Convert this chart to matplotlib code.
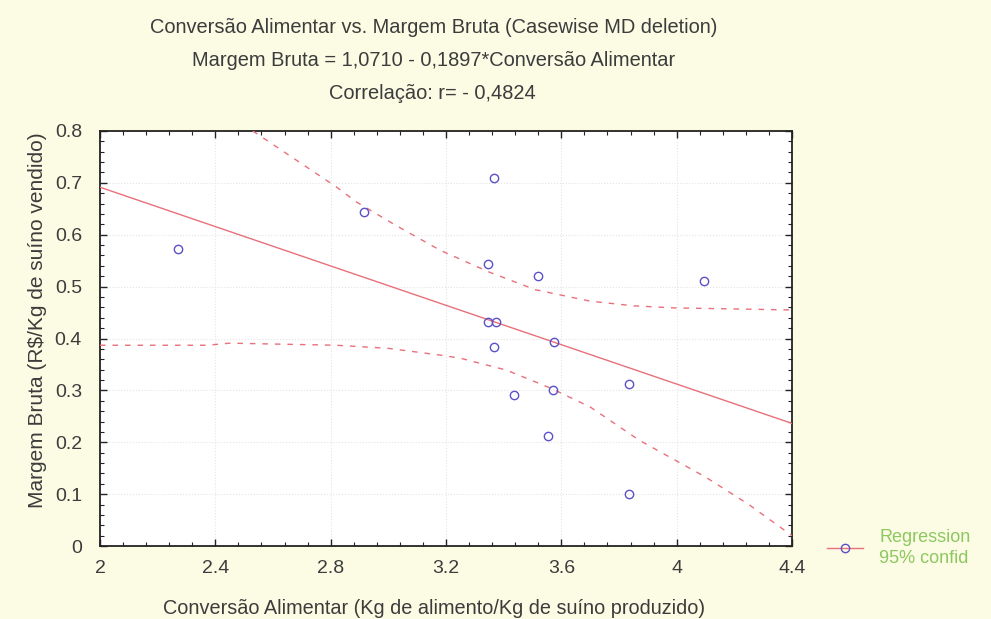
#coding=utf8
'''
Conversao Alimentar vs Margem Bruta scatter with regression and 95% band.
'''
import numpy as np
import matplotlib
matplotlib.use('Agg')
import matplotlib.pyplot as plt
from matplotlib.ticker import MultipleLocator

# data
conv = [2.27, 2.915, 3.365, 3.345, 3.52, 4.095, 3.345, 3.375,
        3.365, 3.575, 3.435, 3.57, 3.835, 3.555, 3.835]
margem = [0.572, 0.643, 0.71, 0.543, 0.521, 0.511, 0.432, 0.432,
          0.383, 0.393, 0.291, 0.301, 0.312, 0.212, 0.101]

# regression from the title
b0, b1 = 1.0710, -0.1897

# 95% band
up_x = [2.53, 2.82, 2.89, 3.02, 3.18, 3.35, 3.51, 3.70, 3.85, 3.99, 4.20, 4.40]
up_y = [0.800, 0.692, 0.663, 0.620, 0.570, 0.528, 0.494, 0.472, 0.463, 0.459, 0.457, 0.455]
lo_x = [2.00, 2.37, 2.45, 2.82, 3.00, 3.18, 3.25, 3.41, 3.56, 3.70, 3.87, 4.10, 4.25, 4.40]
lo_y = [0.387, 0.387, 0.391, 0.387, 0.381, 0.368, 0.362, 0.339, 0.305, 0.268, 0.204, 0.133, 0.080, 0.020]

xticks = [2, 2.4, 2.8, 3.2, 3.6, 4, 4.4]
xtlab = ['2', '2.4', '2.8', '3.2', '3.6', '4', '4.4']
yticks = [0, 0.1, 0.2, 0.3, 0.4, 0.5, 0.6, 0.7, 0.8]
ytlab = ['0', '0.1', '0.2', '0.3', '0.4', '0.5', '0.6', '0.7', '0.8']

txt = '#3c3c3c'
red = '#e8707a'
blue = '#5a50c8'
green = '#8cc860'

plt.rcParams['font.family'] = ['Liberation Sans', 'DejaVu Sans']
fig = plt.figure(figsize=(9.91, 6.19), dpi=100, facecolor='#fcfbe4')
ax = fig.add_axes([0.1009, 0.1179, 0.6983, 0.6705])
ax.set_facecolor('white')

xl = np.array([2.0, 4.4])
ax.plot(xl, b0 + b1 * xl, '-', color=red, lw=1.0, zorder=3)
ax.plot(up_x, up_y, '--', color=red, lw=1.0, dashes=(4, 5), zorder=3)
ax.plot(lo_x, lo_y, '--', color=red, lw=1.0, dashes=(4, 5), zorder=3)
ax.plot(conv, margem, 'o', mfc='none', mec=blue, ms=6, mew=1.0, zorder=4)

ax.set_xlim(2, 4.4)
ax.set_ylim(0, 0.8)
ax.xaxis.set_minor_locator(MultipleLocator(0.08))
ax.yaxis.set_minor_locator(MultipleLocator(0.02))
ax.set_xticks(xticks)
ax.set_xticklabels(xtlab)
ax.set_yticks(yticks)
ax.set_yticklabels(ytlab)
ax.tick_params(which='both', direction='in', top=True, right=True,
               colors='#222222', labelcolor=txt, labelsize=14)
ax.tick_params(which='major', length=5, width=1.0)
ax.tick_params(axis='x', which='major', pad=10)
ax.tick_params(axis='y', which='major', pad=13)
ax.tick_params(which='minor', length=3, width=0.8)
for s in ax.spines.values():
    s.set_linewidth(1.3)
    s.set_color('#222222')
ax.grid(True, which='major', ls=':', color='#e4e4e4', lw=0.8)

ax.set_xlabel(u'Conversão Alimentar (Kg de alimento/Kg de suíno produzido)',
              fontsize=14.3, color=txt)
ax.xaxis.set_label_coords(0.483, -0.128)
ax.set_ylabel(u'Margem Bruta (R$/Kg de suíno vendido)',
              fontsize=15, color=txt)
ax.yaxis.set_label_coords(-0.077, 0.545)

fig.text(0.438, 0.955, u'Conversão Alimentar vs. Margem Bruta (Casewise MD deletion)',
         ha='center', va='center', fontsize=14.4, color=txt)
fig.text(0.438, 0.902, u'Margem Bruta = 1,0710 - 0,1897*Conversão Alimentar',
         ha='center', va='center', fontsize=14.4, color=txt)
fig.text(0.436, 0.849, u'Correlação: r= - 0,4824',
         ha='center', va='center', fontsize=14.4, color=txt)

# legend outside, lower right
h, = ax.plot([], [], '-', color=red, lw=1.0, marker='o', mfc='none', mec=blue, ms=6)
leg = fig.legend([h], ['Regression\n95% confid'], loc='center left',
                 bbox_to_anchor=(0.818, 0.115), frameon=False, fontsize=13,
                 handlelength=2.0, handletextpad=0.9, labelcolor=green)
leg.get_texts()[0].set_linespacing(1.35)

fig.savefig('out.png', dpi=100, facecolor=fig.get_facecolor())
